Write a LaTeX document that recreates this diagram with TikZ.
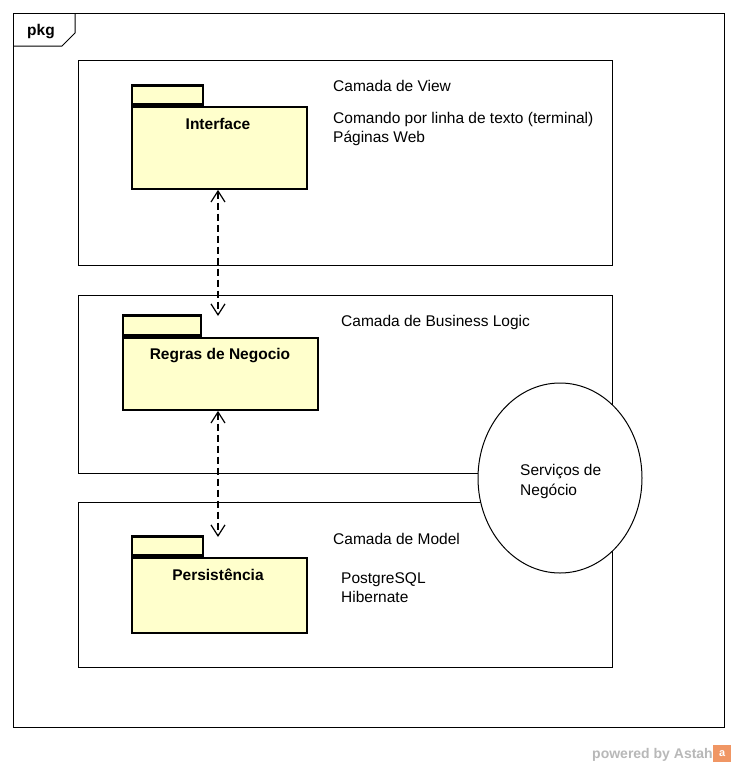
\documentclass[tikz,border=0pt]{standalone}
\usepackage{fontspec}
\setmainfont{Liberation Sans}
\usetikzlibrary{arrows.meta,shapes.geometric}
\definecolor{pkgyellow}{RGB}{255,255,204}
\definecolor{astahorange}{RGB}{240,150,100}
\begin{document}
\begin{tikzpicture}[x=1pt,y=-1pt,
  frame/.style={draw=black, line width=1pt},
  pkgbody/.style={draw=black, line width=2.4pt, fill=pkgyellow, rectangle, inner sep=0pt},
  txt/.style={font=\fontsize{15.5}{19}\selectfont, anchor=base west, inner sep=0pt},
  btxt/.style={font=\bfseries\fontsize{15.5}{19}\selectfont, anchor=base, inner sep=0pt},
  dep/.style={draw=black, line width=1.2pt, dash pattern=on 7pt off 4pt,
    {Straight Barb[length=11pt,width=14pt,line width=1.2pt]}-{Straight Barb[length=11pt,width=14pt,line width=1.2pt]}}
]
\useasboundingbox (0,0) rectangle (737,766);
\fill[white] (0,0) rectangle (737,766);

% outer package frame
\draw[frame] (13,13) rectangle (724,727);
\draw[frame] (13,46) -- (62,46) -- (75,33) -- (75,13);
\node[font=\bfseries\fontsize{15.5}{19}\selectfont, anchor=base, inner sep=0pt] (pkg) at (41,35) {pkg};

% layer rectangles
\node[frame, rectangle, anchor=north west, minimum width=534pt, minimum height=205pt, inner sep=0pt] (view) at (78,60) {};
\node[frame, rectangle, anchor=north west, minimum width=534pt, minimum height=178pt, inner sep=0pt] (biz) at (78,295) {};
\node[frame, rectangle, anchor=north west, minimum width=534pt, minimum height=165pt, inner sep=0pt] (model) at (78,502) {};

% Interface package
\node[pkgbody, anchor=north west, minimum width=175pt, minimum height=82pt] (ifb) at (130.5,105.5) {};
\node[pkgbody, anchor=south west, minimum width=71pt, minimum height=19pt] (ift) at (ifb.north west) {};
\node[btxt] (ifl) at (218,129) {Interface};

% Regras de Negocio package
\node[pkgbody, anchor=north west, minimum width=195pt, minimum height=72pt] (rgb) at (121.5,336.5) {};
\node[pkgbody, anchor=south west, minimum width=78pt, minimum height=20pt] (rgt) at (rgb.north west) {};
\node[btxt] (rgl) at (220,359) {Regras de Negocio};

% Persistencia package
\node[pkgbody, anchor=north west, minimum width=175pt, minimum height=75pt] (psb) at (130.5,556.5) {};
\node[pkgbody, anchor=south west, minimum width=71pt, minimum height=19pt] (pst) at (psb.north west) {};
\node[btxt] (psl) at (218,580) {Persistência};

% texts
\node[txt] (t1) at (333,91) {Camada de View};
\node[txt] (t2) at (333,123) {Comando por linha de texto (terminal)};
\node[txt] (t3) at (333,142) {Páginas Web};
\node[txt] (t4) at (341,326) {Camada de Business Logic};
\node[txt] (t5) at (333,544) {Camada de Model};
\node[txt] (t6) at (341,583) {PostgreSQL};
\node[txt] (t7) at (341,602) {Hibernate};

% dependencies
\coordinate (rgtop) at (218,316);
\coordinate (pstop) at (218,537);
\draw[dep] (ifb.south -| rgtop) -- (rgtop);
\draw[dep] (rgb.south -| pstop) -- (pstop);

% ellipse
\node[draw=black, line width=1pt, fill=white, ellipse, minimum width=164pt, minimum height=190pt,
  inner sep=0pt] (svc) at (560,478) {};
\node[txt] (svc1) at (520,475) {Serviços de};
\node[txt] (svc2) at (520,495) {Negócio};

% watermark
\node[font=\bfseries\fontsize{14}{16}\selectfont, text=black!28, anchor=base east, inner sep=0pt] (wm) at (713,758) {powered by Astah};
\node[fill=astahorange, minimum width=18pt, minimum height=17pt, inner sep=0pt, anchor=west,
  font=\bfseries\fontsize{11}{12}\selectfont, text=white] (icon) at (wm.east |- 0,753.5) {a};
\end{tikzpicture}
\end{document}
